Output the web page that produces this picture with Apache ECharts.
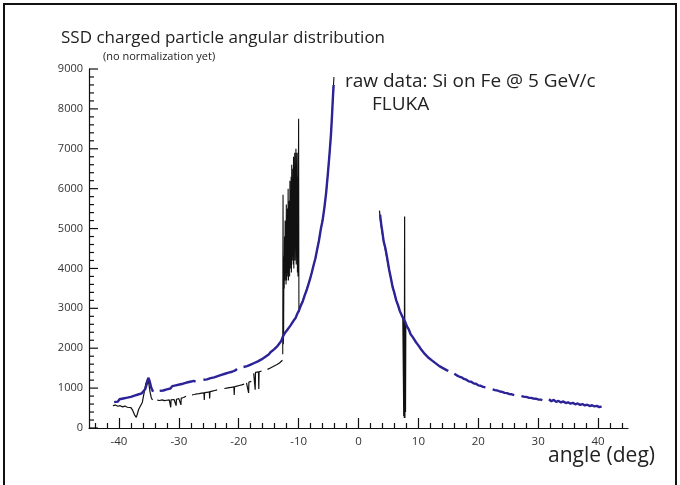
<!DOCTYPE html>
<html><head><meta charset="utf-8">
<script src="https://cdn.jsdelivr.net/npm/echarts@6/dist/echarts.min.js"></script>
<style>html,body{margin:0;padding:0;background:#fff}#c{width:680px;height:485px}</style>
</head><body><div id="c"></div>
<script>
// ---- data (angle in deg, counts) ; null = gap ----
const xLabelValues = [-40,-30,-20,-10,0,10,20,30,40];
const xMinorValues = [-44,-42,-38,-36,-34,-32,-28,-26,-24,-22,-18,-16,-14,-12,-8,-6,-4,-2,2,4,6,8,12,14,16,18,22,24,26,28,32,34,36,38,42,44];
const yLabelValues = [0,1000,2000,3000,4000,5000,6000,7000,8000,9000];
const yMinorValues = [200,400,600,800,1200,1400,1600,1800,2200,2400,2600,2800,3200,3400,3600,3800,4200,4400,4600,4800,5200,5400,5600,5800,6200,6400,6600,6800,7200,7400,7600,7800,8200,8400,8600,8800];
const blueLeft = [[-40.8,650],[-40.5,700],[-40.2,660],[-39.9,720],[-39.6,690],[-39.3,740],[-39,720],[-38.6,760],[-38.3,730],[-38,780],[-37.7,760],[-37.4,810],[-37.1,780],[-36.8,840],[-36.5,820],[-36.2,870],[-35.9,880],[-35.6,980],[-35.3,1130],[-35.1,1260],[-34.9,1190],[-34.6,1010],[-34.3,910],null,
[-33.2,930],[-32.9,970],[-32.6,940],[-32.3,990],[-32,970],[-31.7,1020],[-31.4,990],[-31.1,1050],[-30.8,1020],[-30.5,1070],[-30.2,1040],[-29.9,1090],[-29.6,1070],[-29.3,1110],[-29,1090],[-28.7,1140],[-28.4,1110],[-28.1,1160],[-27.8,1140],[-27.5,1180],[-27.2,1160],null,
[-25.9,1210],[-25.6,1250],[-25.3,1220],[-25,1270],[-24.7,1250],[-24.4,1290],[-24.1,1270],[-23.8,1320],[-23.5,1300],[-23.2,1350],[-22.9,1330],[-22.6,1380],[-22.3,1360],[-22,1400],[-21.7,1390],[-21.4,1430],[-21.1,1410],[-20.8,1460],[-20.5,1450],[-20.3,1480],null,
[-19.2,1530],[-18.9,1570],[-18.6,1550],[-18.3,1600],[-18,1590],[-17.7,1640],[-17.4,1630],[-17.1,1680],[-16.8,1670],[-16.5,1720],[-16.2,1720],[-15.9,1770],[-15.6,1780],[-15.3,1830],[-15,1840],[-14.7,1900],[-14.4,1910],[-14.1,1970],[-13.8,1990],[-13.5,2060],[-13.2,2090],[-12.9,2180],[-12.6,2300],[-12.3,2380],[-12,2440],[-11.7,2480],[-11.4,2560],[-11.1,2600],[-10.8,2700],[-10.5,2760],[-10.2,2870],[-9.9,2960],[-9.6,3080],[-9.3,3180],[-9,3320],[-8.7,3440],[-8.4,3580],[-8.1,3730],[-7.8,3900],[-7.5,4080],[-7.2,4250],[-6.9,4480],[-6.6,4700],[-6.3,4980],[-6,5200],[-5.7,5520],[-5.4,5900],[-5.1,6400],[-4.85,6850],[-4.6,7350],[-4.4,7900],[-4.25,8350],[-4.15,8600]];
const blackLeftLow = [[-41,560],[-40.6,575],[-40.2,545],[-39.8,560],[-39.4,530],[-39,550],[-38.6,520],[-38.3,480],[-38,510],[-37.7,440],[-37.4,330],[-37.1,265],[-36.9,300],[-36.7,470],[-36.4,520],[-36.1,640],[-35.8,880],[-35.5,1120],[-35.2,1230],[-35,1100],[-34.8,900],[-34.6,760],[-34.4,700],null,
[-33.6,700],[-33.2,690],[-32.8,705],[-32.4,685],[-32,695],[-31.6,705],[-31.4,700],[-31.35,520],[-31.3,705],[-30.8,715],[-30.5,715],[-30.45,560],[-30.4,720],[-30,735],[-29.7,745],[-29.65,580],[-29.6,750],[-29.2,765],[-28.8,795],null,
[-27.8,830],[-27.4,840],[-27,855],[-26.6,860],[-26.2,875],[-25.8,880],[-25.75,700],[-25.7,885],[-25.3,895],[-24.9,905],[-24.85,740],[-24.8,910],[-24.4,925],[-24,940],[-23.6,955],null,
[-22.4,990],[-22,1000],[-21.6,1010],[-21.2,1020],[-20.8,1030],[-20.75,830],[-20.7,1035],[-20.3,1050],[-19.9,1065],[-19.5,1080],[-19.1,1100],null,
[-18.7,1130],[-18.4,1145],[-18.35,880],[-18.3,1150],[-17.9,1170],null,
[-17.5,1370],[-17.3,1390],[-17.25,960],[-17.2,1395],[-16.7,1405],[-16.65,980],[-16.6,1410],[-16.2,1425],null,
[-15.2,1470],[-14.8,1500],[-14.4,1530],[-14,1560],[-13.6,1590],[-13.2,1630],[-12.9,1660],[-12.7,1700]];
const blackCluster = [[-12.65,1850],[-12.6,5850],[-12.55,2100],[-12.5,2400],[-12.45,4300],[-12.4,3500],[-12.35,4800],[-12.3,3700],[-12.25,5200],[-12.2,3900],[-12.15,5000],[-12.1,3600],[-12.05,5600],[-12,3700],[-11.95,4900],[-11.9,3800],[-11.85,5500],[-11.8,3900],[-11.75,6000],[-11.7,3700],[-11.65,5300],[-11.6,4000],[-11.55,5700],[-11.5,3800],[-11.45,6200],[-11.4,4100],[-11.35,5600],[-11.3,4000],[-11.25,6300],[-11.2,3900],[-11.15,6600],[-11.1,4200],[-11.05,6000],[-11,4300],[-10.95,6500],[-10.9,4100],[-10.85,6800],[-10.8,4000],[-10.75,6400],[-10.7,4400],[-10.65,6900],[-10.6,4200],[-10.55,6600],[-10.5,4500],[-10.45,7000],[-10.4,4100],[-10.35,6700],[-10.3,4300],[-10.25,6900],[-10.2,3900],[-10.15,6300],[-10.1,3800],[-10.05,6000],[-10,7750],[-9.95,2900],[-9.9,3000],[-9.6,3100],[-9.3,3200],[-9,3330],[-8.7,3450],[-8.4,3590],[-8.1,3740],[-7.8,3900],[-7.5,4080],[-7.2,4260],[-6.9,4480],[-6.6,4710],[-6.3,4980],[-6,5210],[-5.7,5520],[-5.4,5900],[-5.1,6400],[-4.85,6850],[-4.6,7350],[-4.4,7900],[-4.25,8400],[-4.1,8800]];
const blueRight = [[3.6,5350],[3.8,5100],[4,4900],[4.2,4680],[4.5,4500],[4.8,4250],[5.1,3980],[5.4,3760],[5.7,3530],[6,3380],[6.3,3200],[6.6,3080],[6.9,2930],[7.2,2830],[7.5,2740],[7.8,2660],[8.1,2540],[8.4,2470],[8.7,2350],[9,2290],[9.3,2220],[9.6,2150],[9.9,2090],[10.2,2030],[10.5,1960],[10.8,1920],[11.1,1850],[11.4,1820],[11.7,1760],[12,1740],[12.3,1690],[12.6,1670],[12.9,1620],[13.2,1600],[13.5,1550],[13.8,1540],[14.1,1500],[14.4,1480],[14.7,1450],[15,1430],null,
[16,1360],[16.4,1320],[16.8,1290],[17.2,1270],[17.6,1230],[18,1210],[18.4,1170],[18.8,1160],[19.2,1120],[19.6,1110],[20,1070],[20.4,1060],[20.8,1030],[21.2,1020],null,
[22.4,970],[22.8,950],[23.2,940],[23.6,915],[24,905],[24.4,880],[24.8,875],[25.2,850],[25.6,845],[26,825],null,
[27.2,800],[27.6,785],[28,780],[28.4,760],[28.8,755],[29.2,740],[29.6,735],[30,715],[30.4,712],[30.7,700],null,
[31.8,720],[32.2,670],[32.6,705],[33,655],[33.4,680],[33.8,640],[34.2,665],[34.6,625],[35,645],[35.4,610],[35.8,630],[36.2,595],[36.6,615],[37,580],[37.4,600],[37.8,565],[38.2,585],[38.6,550],[39,570],[39.4,540],[39.8,555],[40.2,525],[40.6,535]];
const blackRight = [[3.5,5450],[3.7,5150],[4,4850],[4.5,4450],[5,4050],[5.5,3680],[6,3350],[6.5,3100],[7,2900],[7.4,2770],[7.5,1200],[7.55,300],[7.6,2700],[7.65,250],[7.7,5300],[7.75,250],[7.8,2650],[7.85,400],[7.9,2620],[8.3,2500]];

const GAP = p => p === null ? ['-','-'] : p;
const axisCol = '#111';
const X_MIN = -45, X_MAX = 45;
const G = {left:89, right:52, top:69, bottom:57};

const chart = echarts.init(document.getElementById('c'), null, {renderer:'canvas'});
const lineSeries = (data, color, width, z) => ({
  type:'line', xAxisIndex:0, yAxisIndex:0, data:data.map(GAP), showSymbol:false, symbol:'none', connectNulls:false,
  lineStyle:{color:color, width:width}, z:z, animation:false, silent:true
});
// y-axis comb ticks, positioned through the axis scale, pointing into the plot
const yTickSeries = (values, len) => ({
  type:'custom', xAxisIndex:0, yAxisIndex:0, clip:false, silent:true, animation:false, z:10,
  data: values.map(v => [X_MIN, v]),
  renderItem:(params, api) => {
    const p = api.coord([api.value(0), api.value(1)]);
    return {type:'line', shape:{x1:p[0], y1:p[1], x2:p[0]+len, y2:p[1]}, style:{stroke:axisCol, lineWidth:1.2}};
  }
});
chart.setOption({
  animation:false,
  grid:[Object.assign({}, G), Object.assign({}, G)],
  xAxis:[{
    gridIndex:0, type:'value', min:X_MIN, max:X_MAX,
    axisLine:{show:true, onZero:false, lineStyle:{color:axisCol, width:1.2}},
    axisTick:{show:true, inside:true, length:10, customValues:xLabelValues, lineStyle:{color:axisCol, width:1.2}},
    axisLabel:{show:true, customValues:xLabelValues, color:'#333', fontSize:11.5, fontFamily:'Open Sans', margin:8},
    splitLine:{show:false}
  },{
    gridIndex:1, type:'value', min:X_MIN, max:X_MAX, position:'bottom',
    axisLine:{show:false, onZero:false},
    axisTick:{show:true, inside:true, length:5, customValues:xMinorValues, lineStyle:{color:axisCol, width:1.2}},
    axisLabel:{show:false}, splitLine:{show:false}
  }],
  yAxis:[{
    gridIndex:0, type:'value', min:0, max:9000, interval:1000,
    axisLine:{show:true, onZero:false, lineStyle:{color:axisCol, width:1.2}},
    axisTick:{show:false},
    axisLabel:{show:true, customValues:yLabelValues, color:'#333', fontSize:11, fontFamily:'Open Sans', margin:6, formatter: v => String(v)},
    splitLine:{show:false}
  },{
    gridIndex:1, type:'value', min:0, max:9000, show:false
  }],
  series:[
    lineSeries(blackLeftLow,'#111',1.2,2),
    lineSeries(blackCluster,'#111',1.1,2),
    lineSeries(blackRight,'#111',1.2,2),
    lineSeries(blueLeft,'#2b2396',2.4,3),
    lineSeries(blueRight,'#2b2396',2.4,3),
    yTickSeries(yLabelValues, 9),
    yTickSeries(yMinorValues, 5)
  ],
  graphic:[
    {type:'rect', shape:{x:4,y:4,width:672,height:500}, style:{fill:'none', stroke:'#111', lineWidth:2}, silent:true},
    {type:'text', left:61, top:30, style:{text:'SSD charged particle angular distribution', fill:'#222', font:'17px "Open Sans"'}},
    {type:'text', left:103, top:51, style:{text:'(no normalization yet)', fill:'#222', font:'11px "Open Sans"'}},
    {type:'text', left:345, top:72, style:{text:'raw data: Si on Fe @ 5 GeV/c', fill:'#222', font:'19px "Open Sans"'}},
    {type:'text', left:372, top:95, style:{text:'FLUKA', fill:'#222', font:'19px "Open Sans"'}},
    {type:'text', right:25, top:446, style:{text:'angle (deg)', fill:'#222', font:'21px "Open Sans"'}}
  ]
});
</script></body></html>
